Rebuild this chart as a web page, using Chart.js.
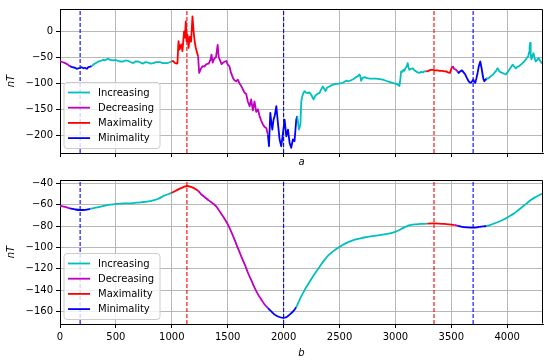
<!DOCTYPE html>
<html><head><meta charset="utf-8">
<script src="https://cdn.jsdelivr.net/npm/chart.js@4.4.0/dist/chart.umd.min.js"></script>
<style>
html,body{margin:0;padding:0;background:#fff;}
#wrap{position:relative;width:550px;height:362px;overflow:hidden;}
#c1{position:absolute;left:0;top:0;}
#c2{position:absolute;left:0;top:170px;}
</style></head><body>
<div id="wrap">
<canvas id="c1" width="550" height="170"></canvas>
<canvas id="c2" width="550" height="192"></canvas>
</div>
<script>
// ---- phases (start x of each phase and its kind) ----
const phaseStarts = [0, 90, 283, 1000, 1235, 1860, 2122, 3272, 3512, 3550, 3815];
const phaseKinds  = ['Decreasing','Minimality','Increasing','Maximality','Decreasing','Minimality','Increasing','Maximality','Decreasing','Minimality','Increasing'];

// ---- extrema markers (vertical dashed lines) ----
const extremaX    = [180, 1135, 2000, 3345, 3695];
const extremaKind = ['Minimality','Maximality','Minimality','Maximality','Minimality'];

// ---- legend ----
const legendLabels = ['Increasing','Decreasing','Maximality','Minimality'];

// ---- tick labels ----
const xTicks    = [0, 500, 1000, 1500, 2000, 2500, 3000, 3500, 4000];
const yTicksTop = [0, -50, -100, -150, -200];
const yTicksBot = [-40, -60, -80, -100, -120, -140, -160];

// ---- top panel (a): raw signal ----
const topX = [0,20,45,70,89,110,134,150,164,180,193,210,223,240,253,270,283,298,313,330,342,360,387,400,415,432,450,476,495,521,540,565,585,610,630,655,675,699,720,744,765,789,810,833,860,893,920,952,975,997,
1010,1030,1050,1060,1070,1085,1095,1110,1118,1125,1132,1140,1150,1160,1172,1185,1195,1205,1215,1225,1235,
1245,1260,1275,1290,1310,1330,1345,1355,1365,1380,1395,1410,1420,1430,1445,1460,1475,1488,1500,1515,1530,1548,1560,1575,1590,1605,1620,1637,1650,1665,1680,1696,1710,1725,1740,1755,1770,1785,1800,1815,1830,1845,1860,
1869,1881,1890,1899,1910,1920,1935,1949,1964,1979,1994,2009,2024,2039,2054,2068,2083,2098,2113,2122,
2137,2150,2158,2167,2178,2188,2200,2217,2230,2247,2268,2280,2292,2305,2321,2335,2351,2362,2375,2390,2411,2425,2440,2460,2485,2505,2530,2545,2559,2580,2604,2620,2635,2649,2665,2679,2688,2693,2705,2723,2745,2768,2800,2827,2860,2887,2915,2946,2975,3006,3025,3036,3045,3051,3062,3071,3080,3089,3100,3110,3118,3125,3140,3155,3170,3185,3200,3214,3230,3244,3260,
3274,3295,3315,3333,3355,3375,3395,3420,3440,3452,3470,3488,3500,3512,
3525,3542,
3555,3566,3580,3595,3610,3625,3640,3655,3665,3676,3686,3696,3705,3714,3725,3735,3747,3759,3770,3780,3787,3795,3803,3810,
3824,3840,3854,3870,3884,3900,3914,3929,3945,3958,3975,3988,4003,4018,4033,4048,4062,4077,4092,4107,4122,4137,4152,4167,4180,4188,4195,4200,4205,4210,4217,4225,4235,4245,4256,4268,4280,4295,4310,4320];
const topY = [-57,-59,-61,-64,-67,-69,-70,-72,-71,-70,-69,-71,-70,-72,-69,-68,-67,-64,-62,-60,-58,-57,-55,-56,-54,-53,-55,-56,-55,-57,-58,-58,-56,-57,-59,-61,-58,-58,-60,-62,-59,-60,-62,-61,-59,-59,-61,-61,-60,-58,
-57,-61,-62,-19,-35,-25,-38,0,-12,19,-19,-6,-32,-10,-20,29,0,-20,-32,-40,-48,
-80,-72,-67,-68,-63,-62,-55,-45,-60,-52,-50,-26,-50,-55,-63,-60,-58,-57,-64,-67,-80,-90,-94,-96,-93,-100,-105,-112,-118,-120,-135,-144,-131,-152,-135,-155,-150,-163,-172,-179,-184,-186,-199,
-221,-157,-175,-189,-170,-163,-144,-176,-208,-221,-196,-170,-202,-189,-215,-224,-208,-211,-170,-163,
-189,-180,-135,-125,-118,-115,-118,-119,-117,-122,-131,-125,-122,-120,-119,-112,-106,-110,-115,-108,-106,-104,-103,-101,-101,-100,-99,-97,-95,-96,-94,-92,-90,-88,-86,-83,-88,-95,-90,-88,-90,-91,-91,-91,-92,-93,-95,-97,-99,-101,-103,-105,-90,-77,-78,-74,-76,-71,-68,-61,-70,-74,-72,-71,-75,-77,-79,-80,-78,-79,-77,
-77,-76,-74,-74,-75,-75,-76,-76,-77,-77,-79,-80,-72,-67,
-72,-74,
-77,-80,-77,-75,-79,-83,-90,-96,-98,-99,-96,-93,-97,-99,-90,-80,-66,-58,-70,-83,-92,-96,-93,-90,
-91,-89,-86,-84,-80,-76,-71,-77,-79,-80,-82,-83,-79,-74,-69,-64,-68,-71,-68,-67,-64,-61,-58,-54,-50,-48,-40,-30,-22,-45,-54,-47,-42,-52,-58,-55,-51,-57,-61,-60];

// ---- bottom panel (b): smoothed signal ----
const botX = [0,45,89,135,179,225,268,310,357,400,446,490,536,600,655,700,744,790,833,880,923,960,997,1035,1071,1105,1137,1165,1190,1215,1235,1265,1295,1330,1369,1400,1429,1465,1503,1530,1562,1592,1622,1652,1682,1712,1741,1771,1801,1830,1860,1890,1920,1955,1994,2025,2054,2085,2113,2135,2158,2185,2217,2255,2292,2330,2366,2400,2440,2478,2515,2550,2589,2625,2664,2700,2738,2775,2812,2860,2901,2950,2991,3030,3065,3100,3140,3185,3229,3285,3342,3390,3438,3485,3527,3560,3586,3640,3694,3730,3765,3815,3850,3884,3930,3973,4020,4063,4100,4137,4175,4211,4255,4301,4320];
const botY = [-61,-62,-63.5,-64.5,-65,-64.8,-64,-63,-62,-61,-60,-59.5,-59,-58.8,-58.5,-58,-57.5,-57,-56,-54.5,-52,-50.5,-49,-47,-45,-43.5,-42.5,-43,-44,-45.5,-47,-50.5,-53,-56,-59,-62,-66.5,-72,-79,-85,-93,-101,-108.6,-116,-124,-131,-138,-144,-149,-153.5,-157,-160,-163,-165,-166,-165.5,-163,-160,-156,-151,-146,-140.5,-135,-128.5,-122.6,-117,-111.7,-107.5,-104,-101,-98.6,-96.5,-94.6,-93.2,-92,-91.2,-90.5,-89.8,-89.3,-88.5,-87.8,-86.8,-85.8,-84,-82,-80.3,-79,-78.4,-78,-77.7,-77.6,-77.7,-78,-78.5,-79,-79.8,-80.5,-81.2,-81.5,-81.2,-80.5,-80,-79,-77.6,-75.8,-73.6,-70.8,-68,-65,-62,-58.8,-55.6,-52.8,-50.3,-49.5];

const kindColor = {Increasing:'#00BFBF', Decreasing:'#BF00BF', Maximality:'#FF0000', Minimality:'#0000FF'};
function kindAt(x){ let k = phaseKinds[0]; for (let i=0;i<phaseStarts.length;i++){ if (x >= phaseStarts[i]) k = phaseKinds[i]; } return k; }

Chart.defaults.font.family = 'DejaVu Sans';
Chart.defaults.font.size = 10;
Chart.defaults.color = '#000';

const framePlugin = {
  id: 'frameLegend',
  afterDraw(chart) {
    const ctx = chart.ctx, a = chart.chartArea;
    ctx.save();
    ctx.strokeStyle = '#000'; ctx.lineWidth = 1;
    ctx.beginPath();
    ctx.moveTo(Math.round(a.left)+0.5, Math.round(a.top)+0.5);
    ctx.lineTo(Math.round(a.right)-0.5, Math.round(a.top)+0.5);
    ctx.lineTo(Math.round(a.right)-0.5, Math.round(a.bottom)-0.5);
    ctx.stroke();
    // legend
    const w = 96, h = 66;
    const bx = a.left + 4, by = a.bottom - 4.5 - h;
    ctx.beginPath();
    const r = 3;
    ctx.moveTo(bx + r, by); ctx.lineTo(bx + w - r, by); ctx.quadraticCurveTo(bx + w, by, bx + w, by + r);
    ctx.lineTo(bx + w, by + h - r); ctx.quadraticCurveTo(bx + w, by + h, bx + w - r, by + h);
    ctx.lineTo(bx + r, by + h); ctx.quadraticCurveTo(bx, by + h, bx, by + h - r);
    ctx.lineTo(bx, by + r); ctx.quadraticCurveTo(bx, by, bx + r, by);
    ctx.closePath();
    ctx.fillStyle = 'rgba(255,255,255,0.8)'; ctx.fill();
    ctx.strokeStyle = '#cccccc'; ctx.lineWidth = 1; ctx.stroke();
    ctx.font = '10px "DejaVu Sans"'; ctx.textBaseline = 'middle'; ctx.textAlign = 'left';
    legendLabels.forEach((lab, i) => {
      const y = by + 10 + i * 15.2;
      ctx.strokeStyle = kindColor[lab]; ctx.lineWidth = 1.8;
      ctx.beginPath(); ctx.moveTo(bx + 4, y); ctx.lineTo(bx + 26, y); ctx.stroke();
      ctx.fillStyle = '#000'; ctx.fillText(lab, bx + 34, y + 0.5);
    });
    ctx.restore();
  }
};

function makeChart(canvas, xs, ys, yMin, yMax, yTicks, showXLabels, xTitle, padTop, xAxisH, xTitlePad, smooth) {
  const pts = xs.map((x, i) => ({x: x, y: ys[i]}));
  const datasets = [];
  extremaX.forEach((ex, i) => {
    datasets.push({
      data: [{x: ex, y: yMin}, {x: ex, y: yMax}],
      borderColor: kindColor[extremaKind[i]], borderWidth: 1.1, borderDash: [4, 2],
      pointRadius: 0, fill: false
    });
  });
  datasets.push({
    data: pts, borderWidth: 1.8, pointRadius: 0, fill: false,
    borderColor: '#00BFBF',
    tension: smooth ? 0.4 : 0,
    cubicInterpolationMode: smooth ? 'monotone' : 'default',
    borderJoinStyle: 'round',
    segment: { borderColor: c => kindColor[kindAt((c.p0.parsed.x + c.p1.parsed.x) / 2)] }
  });
  const gridCommon = { color: '#b0b0b0', lineWidth: 0.9, tickColor: '#000', tickLength: 4, tickWidth: 1 };
  return new Chart(canvas, {
    type: 'line',
    data: { datasets },
    options: {
      responsive: false, animation: false, events: [],
      layout: { padding: { top: padTop, right: 7, left: 0, bottom: 0 } },
      plugins: { legend: { display: false }, tooltip: { enabled: false } },
      scales: {
        x: {
          type: 'linear', min: 0, max: 4320,
          afterBuildTicks(s) { s.ticks = xTicks.map(v => ({value: v})); },
          ticks: { display: showXLabels, padding: 3, maxRotation: 0, autoSkip: false, color: '#000', font: { size: 10 },
                   callback: v => String(v) },
          grid: gridCommon,
          border: { display: true, color: '#000', width: 1 },
          title: { display: true, text: xTitle, color: '#000', font: { size: 10, style: 'italic' }, padding: { top: 0, bottom: xTitlePad } },
          afterFit(s) { s.height = xAxisH; }
        },
        y: {
          type: 'linear', min: yMin, max: yMax,
          afterBuildTicks(s) { s.ticks = yTicks.map(v => ({value: v})); },
          ticks: { padding: 3, color: '#000', font: { size: 10 }, autoSkip: false,
                   callback: v => String(v).replace('-', '\u2212') },
          grid: gridCommon,
          border: { display: true, color: '#000', width: 1 },
          title: { display: true, text: 'nT', color: '#000', font: { size: 10, style: 'italic' }, padding: { top: 5, bottom: 0 } },
          afterFit(s) { s.width = 60; }
        }
      }
    },
    plugins: [framePlugin]
  });
}

makeChart(document.getElementById('c1'), topX, topY, -234, 43, yTicksTop, false, 'a', 8, 17, 2, false);
makeChart(document.getElementById('c2'), botX, botY, -171.8, -36.9, yTicksBot, true, 'b', 10, 38, 3, true);
</script>
</body></html>
